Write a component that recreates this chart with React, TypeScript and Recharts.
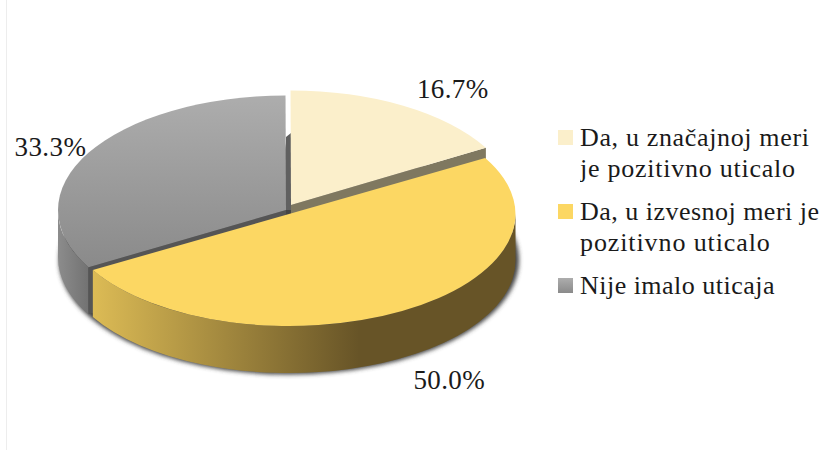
import React from "react";
import { PieChart, Pie, Legend } from "recharts";

const categories = [
  ["Da, u značajnoj meri", "je pozitivno uticalo"],
  ["Da, u izvesnoj meri je", "pozitivno uticalo"],
  ["Nije imalo uticaja"],
];
const values = [16.7, 50.0, 33.3];
const percentLabels = ["16.7%", "50.0%", "33.3%"];
// Painter's order: back slices first.
const drawOrder = [2, 0, 1];

const tableRows = drawOrder.map((i) => ({
  name: categories[i].join(" "),
  value: values[i],
  label: percentLabels[i],
  idx: i,
}));

const DEPTH = 47;
const styles = [
  { top: "#FBEFCB", wall: "#FBEFCB", cut: "#7F7860", dx: 2, dy: -9, rx: 225, ry: 114.5, ldx: 49.5, ldy: -17, swatch: "#FBEFCB", spacing: [0.65, 0.75] },
  { top: "#FCD763", wall: "url(#yellowWall)", cut: "#675427", dx: 0, dy: 0, rx: 226.5, ry: 112, ldx: 47, ldy: 69, swatch: "#FCD763", spacing: [0.48, 0.9] },
  { top: "url(#greyTop)", wall: "url(#greyWall)", cut: "#555555", dx: -3, dy: -4, rx: 228, ry: 114.5, ldx: -38, ldy: -6, swatch: "url(#greySwatch)", spacing: [0.48] },
];

const toXY = (cx: number, cy: number, rx: number, ry: number, deg: number) => {
  const a = (deg * Math.PI) / 180;
  return [cx + rx * Math.cos(a), cy - ry * Math.sin(a)];
};

const LOWER = [
  { hi: 0, lo: -180 },
  { hi: 360, lo: 180 },
];

const SliceShape = (props: any) => {
  const { cx, cy, startAngle, endAngle, payload } = props;
  const idx = payload?.idx ?? props.idx;
  const st = styles[idx];
  const x = cx + st.dx;
  const y = cy + st.dy;
  const rx = st.rx;
  const ry = st.ry;
  const [sx, sy] = toXY(x, y, rx, ry, startAngle);
  const [ex, ey] = toXY(x, y, rx, ry, endAngle);
  const large = Math.abs(startAngle - endAngle) > 180 ? 1 : 0;
  const top = `M${x},${y} L${sx},${sy} A${rx},${ry} 0 ${large} 1 ${ex},${ey} Z`;

  const walls = LOWER.map((r, k) => {
    const hi = Math.min(startAngle, r.hi);
    const lo = Math.max(endAngle, r.lo);
    if (hi <= lo) return null;
    const [ax, ay] = toXY(x, y, rx, ry, hi);
    const [bx, by] = toXY(x, y, rx, ry, lo);
    const l = hi - lo > 180 ? 1 : 0;
    return (
      <path
        key={k}
        d={`M${ax},${ay} A${rx},${ry} 0 ${l} 1 ${bx},${by} L${bx},${by + DEPTH} A${rx},${ry} 0 ${l} 0 ${ax},${ay + DEPTH} Z`}
        fill={st.wall}
      />
    );
  });

  // The cut face that stays visible next to the following slice.
  const cutAngle = idx === 2 ? startAngle : endAngle;
  const [cutX, cutY] = toXY(x, y, rx, ry, cutAngle);
  const showCut = idx !== 1;

  return (
    <g>
      {idx === 2 && (
        <ellipse
          cx={cx}
          cy={cy + DEPTH - 1}
          rx={rx + 2}
          ry={ry}
          fill="#444444"
          filter="url(#softShadow)"
        />
      )}
      {walls}
      {showCut && (
        <path
          d={`M${x},${y} L${cutX},${cutY} L${cutX},${cutY + DEPTH} L${x},${y + DEPTH} Z`}
          fill={st.cut}
        />
      )}
      {idx === 2 && (
        <path
          d={`M${x},${y - 73} L${x + 5},${y - 77} L${x + 5},${y} L${x},${y} Z`}
          fill="#606060"
        />
      )}
      <path d={top} fill={st.top} />
    </g>
  );
};

const renderLabel = (props: any) => {
  const { cx, cy, midAngle, payload } = props;
  const idx = payload?.idx ?? props.idx;
  const st = styles[idx];
  const [px, py] = toXY(cx + st.dx, cy + st.dy, st.rx, st.ry, midAngle);
  return (
    <text
      x={px + st.ldx}
      y={py + st.ldy}
      textAnchor="middle"
      dominantBaseline="central"
      fontFamily="'Liberation Serif', serif"
      fontSize={27}
      letterSpacing={0.4}
      fill="#1a1a1a"
    >
      {percentLabels[idx]}
    </text>
  );
};

const LegendContent = () => (
  <div style={{ fontFamily: "'Liberation Serif', serif", fontSize: 26, lineHeight: "30.5px", color: "#1a1a1a" }}>
    {categories.map((lines, i) => (
      <div key={i} style={{ position: "relative", paddingLeft: 22, marginBottom: 13, whiteSpace: "nowrap" }}>
        <svg width={15} height={15} style={{ position: "absolute", left: 0, top: 7 }}>
          <defs>
            <linearGradient id="greySwatch" x1="0" y1="0" x2="0" y2="1">
              <stop offset="0%" stopColor="#ADADAD" />
              <stop offset="100%" stopColor="#8A8A8A" />
            </linearGradient>
          </defs>
          <rect width={15} height={15} fill={styles[i].swatch} />
        </svg>
        {lines.map((t, k) => (
          <svg key={t} width={243} height={30.5} style={{ display: "block" }}>
            <text x={0} y={23} fill="#1a1a1a" letterSpacing={styles[i].spacing[k]} fontFamily="'Liberation Serif', serif" fontSize={26}>
              {t}
            </text>
          </svg>
        ))}
      </div>
    ))}
  </div>
);

export default function App() {
  return (
    <div style={{ position: "absolute", left: 0, top: 0, width: 823, height: 450, background: "#fff", overflow: "hidden" }}>
      <div style={{ position: "absolute", left: 6, top: 0, width: 1, height: 450, background: "#EDEDED" }} />
      <PieChart width={823} height={450} margin={{ top: 0, right: 0, bottom: 0, left: 0 }}>
        <defs>
          <linearGradient id="greyTop" x1="0" y1="0" x2="0" y2="1">
            <stop offset="0%" stopColor="#ADADAD" />
            <stop offset="100%" stopColor="#8A8A8A" />
          </linearGradient>
          <linearGradient id="greyWall" x1="0" y1="0" x2="1" y2="0">
            <stop offset="0%" stopColor="#8C8C8C" />
            <stop offset="100%" stopColor="#727272" />
          </linearGradient>
          <linearGradient id="yellowWall" x1="0" y1="0" x2="1" y2="0">
            <stop offset="0%" stopColor="#DCBB55" />
            <stop offset="63%" stopColor="#675427" />
            <stop offset="100%" stopColor="#675427" />
          </linearGradient>
          <filter id="softShadow" x="-5%" y="-10%" width="110%" height="120%">
            <feGaussianBlur stdDeviation="2" />
          </filter>
        </defs>
        <Pie
          data={tableRows}
          dataKey="value"
          nameKey="name"
          cx={289}
          cy={214}
          outerRadius={227}
          startAngle={210}
          endAngle={-150}
          stroke="none"
          isAnimationActive={false}
          shape={SliceShape}
          label={renderLabel}
          labelLine={false}
        />
        <Legend
          layout="vertical"
          content={LegendContent}
          wrapperStyle={{ position: "absolute", left: 558, top: 123, width: 265, bottom: "auto" }}
        />
      </PieChart>
    </div>
  );
}
